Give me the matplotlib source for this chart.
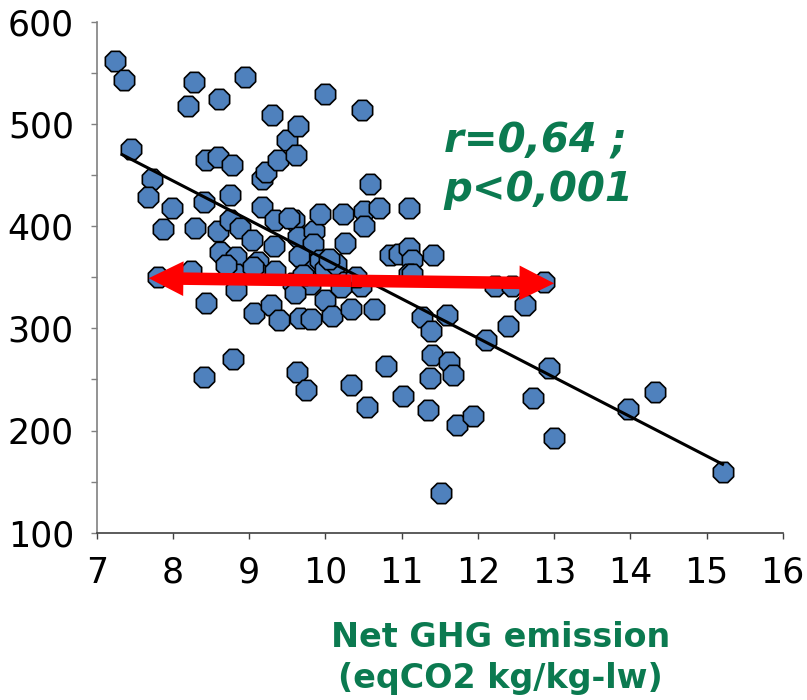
import matplotlib
matplotlib.use("Agg")
import matplotlib.pyplot as plt
from matplotlib.patches import FancyArrowPatch, ArrowStyle
from matplotlib.ticker import MultipleLocator

# emission (x) and second variable (y)
ghg = [7.24, 7.36, 7.45, 7.73, 7.67, 7.99, 7.87, 7.80, 8.27, 8.19,
       8.60, 8.95, 8.43, 8.59, 8.77, 8.41, 8.75, 8.29, 8.59, 8.75,
       8.88, 8.62, 8.82, 8.24, 8.43, 8.82, 8.83, 8.78, 8.41, 9.04,
       9.17, 9.17, 9.22, 9.30, 9.38, 9.49, 9.64, 9.61, 9.99, 10.48,
       9.34, 9.59, 9.32, 9.12, 9.12, 9.34, 9.64, 9.85, 9.84, 9.93,
       9.74, 9.65, 9.93, 9.58, 9.80, 10.00, 10.14, 10.26, 10.23, 10.50,
       10.50, 10.70, 10.59, 11.09, 10.26, 10.46, 10.00, 9.06, 9.29, 9.39,
       9.66, 9.81, 10.08, 10.34, 10.63, 9.63, 9.74, 10.33, 10.54, 10.80,
       11.02, 10.84, 10.96, 11.09, 11.14, 11.09, 11.14, 11.41, 11.26, 11.38,
       11.59, 11.40, 11.62, 11.67, 11.37, 11.35, 11.73, 11.93, 11.52, 12.11,
       12.40, 12.22, 12.45, 12.62, 12.87, 12.93, 12.72, 13.00, 13.97, 14.32,
       15.21, 9.52, 9.05, 9.70, 10.40, 10.20, 8.70, 10.05, 9.60]
weight = [562, 543, 475, 446, 428, 418, 397, 350, 541, 518,
          524, 546, 465, 468, 460, 424, 430, 398, 395, 406,
          398, 375, 370, 356, 325, 353, 337, 270, 252, 386,
          419, 446, 453, 509, 465, 484, 498, 470, 529, 514,
          406, 406, 381, 365, 354, 356, 389, 395, 382, 412,
          362, 371, 367, 344, 343, 358, 363, 383, 412, 415,
          400, 418, 441, 418, 345, 341, 328, 315, 323, 308,
          310, 309, 312, 319, 319, 257, 240, 245, 223, 263,
          234, 372, 373, 379, 367, 353, 353, 372, 311, 297,
          313, 274, 267, 254, 251, 220, 205, 214, 139, 289,
          302, 341, 341, 323, 345, 261, 232, 193, 221, 238,
          159, 408, 360, 352, 350, 340, 362, 368, 335]

# regression line end points
trend_x = [7.33, 15.21]
trend_y = [470, 167]

# red double arrow (left tip, right tip)
arrow_x = [7.68, 13.0]
arrow_y = [349, 344]

green = "#0B7A50"
blue = "#4F81BD"

fig = plt.figure(figsize=(8.07, 7.0), dpi=100)
ax = fig.add_axes([0.120, 0.239, 0.850, 0.730])

ax.scatter(ghg, weight, marker="8", s=250, facecolor=blue,
           edgecolor="black", linewidth=1.2, zorder=2)
ax.plot(trend_x, trend_y, color="black", linewidth=2.2, zorder=3)

mid = ((arrow_x[0] + arrow_x[1]) / 2, (arrow_y[0] + arrow_y[1]) / 2)
style = ArrowStyle.Simple(head_length=2.5, head_width=2.5, tail_width=0.9)
for tip in zip(arrow_x, arrow_y):
    a = FancyArrowPatch(mid, tip, arrowstyle=style, mutation_scale=10,
                        color="#FF0000", linewidth=0, shrinkA=0, shrinkB=0,
                        zorder=4)
    ax.add_patch(a)

ax.text(11.55, 459, "r=0,64 ;\np<0,001", color=green, fontsize=29,
        fontweight="bold", fontstyle="italic", ha="left", va="center",
        linespacing=1.3)

ax.set_xlim(7, 16)
ax.set_ylim(100, 600)
ax.xaxis.set_major_locator(MultipleLocator(1))
ax.yaxis.set_major_locator(MultipleLocator(100))
ax.yaxis.set_minor_locator(MultipleLocator(50))

for s in ["top", "right"]:
    ax.spines[s].set_visible(False)
ax.spines["left"].set_color("#808080")
ax.spines["bottom"].set_color("#404040")
ax.spines["left"].set_linewidth(1.2)
ax.spines["bottom"].set_linewidth(1.2)

ax.tick_params(axis="y", which="both", direction="out", length=4.5,
               width=1, color="#808080", pad=12, labelsize=25)
ax.tick_params(axis="x", which="both", direction="out", length=4.5,
               width=1, color="#404040", pad=12, labelsize=25)

fig.text(0.62, 0.06, "Net GHG emission\n(eqCO2 kg/kg-lw)", color=green,
         fontsize=24, fontweight="bold", ha="center", va="center",
         linespacing=1.3)

fig.savefig("out.png", dpi=100)
